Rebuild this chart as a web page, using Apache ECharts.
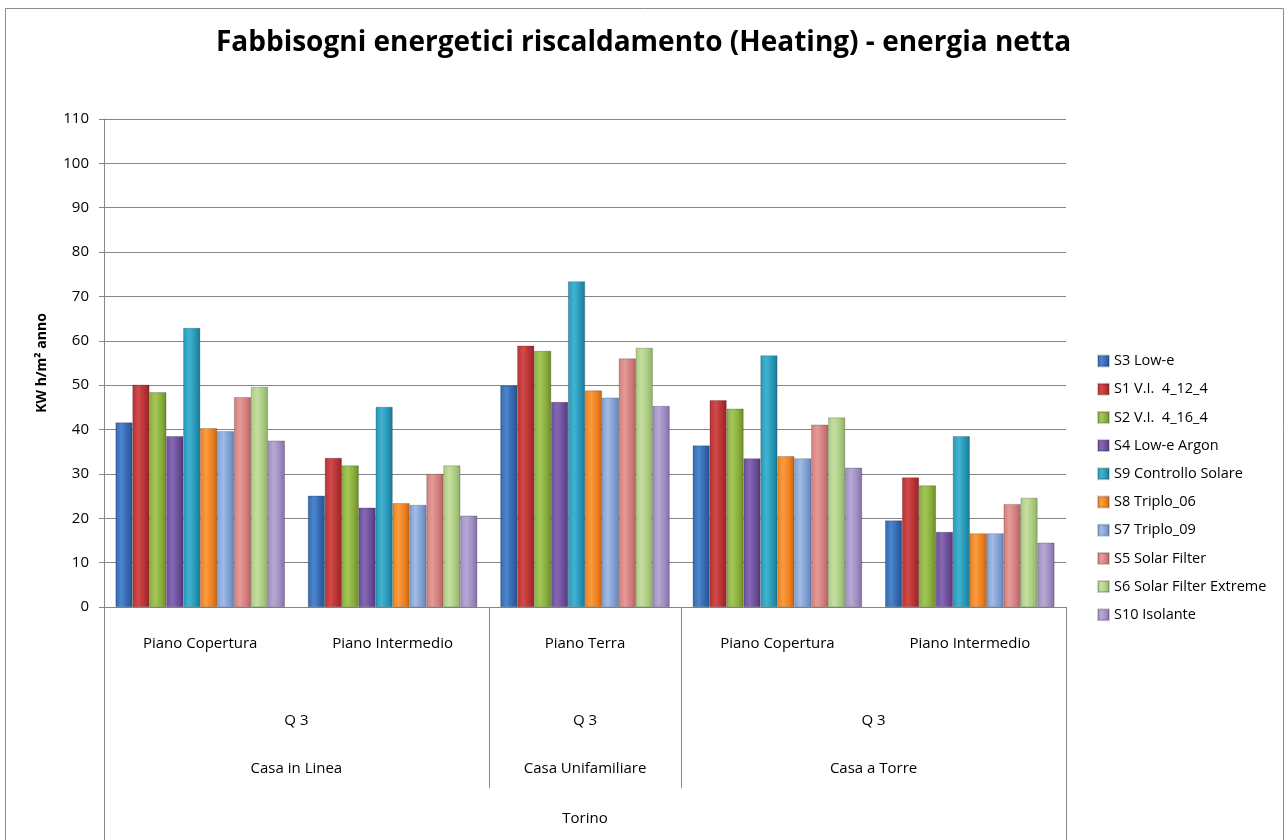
<!DOCTYPE html>
<html>
<head>
<meta charset="utf-8">
<script src="https://cdn.jsdelivr.net/npm/echarts@6/dist/echarts.min.js"></script>
<style>
  html, body { margin: 0; padding: 0; background: #fff; }
  #main { width: 1287px; height: 840px; }
</style>
</head>
<body>
<div id="main"></div>
<script>
// categorie dell'asse (livello 1) e livelli superiori
var categories = ['Piano Copertura', 'Piano Intermedio', 'Piano Terra', 'Piano Copertura', 'Piano Intermedio']
var qLabels = ['', '', 'Q 3', '', '', 'Q 3', '', '', 'Q 3', '', '']
var typeLabels = ['', '', 'Casa in Linea', '', '', 'Casa Unifamiliare', '', '', 'Casa a Torre', '', '']
var cityLabels = ['', '', '', '', '', 'Torino', '', '', '', '', '']
var yTicks = [0, 10, 20, 30, 40, 50, 60, 70, 80, 90, 100, 110]

// serie (kWh/m2 anno)
var seriesNames = ['S3 Low-e', 'S1 V.I.  4_12_4', 'S2 V.I.  4_16_4', 'S4 Low-e Argon', 'S9 Controllo Solare',
  'S8 Triplo_06', 'S7 Triplo_09', 'S5 Solar Filter', 'S6 Solar Filter Extreme', 'S10 Isolante']
var s3 = [41.6, 25.1, 49.9, 36.4, 19.5]
var s1 = [50.1, 33.6, 58.9, 46.6, 29.2]
var s2 = [48.4, 31.9, 57.7, 44.7, 27.4]
var s4 = [38.5, 22.4, 46.2, 33.5, 16.9]
var s9 = [62.9, 45.1, 73.4, 56.7, 38.5]
var s8 = [40.3, 23.4, 48.8, 34.0, 16.6]
var s7 = [39.6, 23.0, 47.2, 33.5, 16.6]
var s5 = [47.3, 30.0, 56.0, 41.1, 23.2]
var s6 = [49.6, 31.9, 58.4, 42.7, 24.6]
var s10 = [37.5, 20.6, 45.3, 31.4, 14.5]
var seriesData = [s3, s1, s2, s4, s9, s8, s7, s5, s6, s10]

// colori: [scuro, medio, chiaro]
var palette = [
  ['#25548f', '#3468b0', '#4c86cc'],
  ['#962425', '#b83234', '#d24a49'],
  ['#6c8c2a', '#89ae3c', '#a3c757'],
  ['#543a7c', '#6c4e9b', '#8568b2'],
  ['#1b7995', '#2798b7', '#41b3d1'],
  ['#c9650f', '#ee8021', '#f99c3e'],
  ['#6584b8', '#819fd2', '#9fbbe6'],
  ['#b86262', '#d27e7c', '#e59b98'],
  ['#8eaf68', '#abcb82', '#c5df9f'],
  ['#8270a5', '#9f8dc1', '#b7a8d6']
]

function barColor(c) {
  return new echarts.graphic.LinearGradient(0, 0, 1, 0, [
    { offset: 0, color: c[1] },
    { offset: 0.35, color: c[2] },
    { offset: 0.7, color: c[1] },
    { offset: 1, color: c[0] }
  ])
}

var font = 'Open Sans'
var gray = '#868686'

var series = seriesNames.map(function (name, i) {
  return {
    name: name,
    type: 'bar',
    data: seriesData[i],
    barGap: '0%',
    barCategoryGap: '12%',
    itemStyle: { color: barColor(palette[i]), borderColor: 'rgba(0,0,0,0.18)', borderWidth: 0.6 }
  }
})

function levelAxis(labels, margin, tickIdx, tickLen) {
  return {
    type: 'category',
    gridIndex: 0,
    position: 'bottom',
    offset: 0,
    boundaryGap: false,
    data: labels.map(function (l, i) { return 'k' + i }),
    axisLine: { show: false },
    axisTick: {
      show: tickIdx.length > 0,
      length: tickLen,
      interval: function (idx) { return tickIdx.indexOf(idx) >= 0 },
      lineStyle: { color: gray }
    },
    axisLabel: {
      interval: 0,
      margin: margin,
      fontFamily: font,
      fontSize: 15,
      color: '#000',
      formatter: function (v, idx) { return labels[idx] }
    },
    splitLine: { show: false }
  }
}

var myChart = echarts.init(document.getElementById('main'))
var option = {
  backgroundColor: '#fff',
  title: {
    text: 'Fabbisogni energetici riscaldamento (Heating) - energia netta',
    left: 'center',
    top: 24,
    textStyle: { fontFamily: font, fontSize: 28, fontWeight: 'bold', color: '#000' }
  },
  graphic: [{
    type: 'rect',
    shape: { x: 5.5, y: 8.5, width: 1278, height: 850 },
    style: { fill: 'none', stroke: '#8c8c8c', lineWidth: 1 },
    silent: true
  }],
  legend: {
    orient: 'vertical',
    left: 1092,
    top: 348,
    itemWidth: 11,
    itemHeight: 11,
    itemGap: 12.2,
    icon: 'rect',
    textStyle: { fontFamily: font, fontSize: 14.5, color: '#000', lineHeight: 16 }
  },
  grid: { left: 104, right: 221, top: 119, bottom: 233 },
  xAxis: [
    {
      type: 'category',
      data: categories,
      axisLine: { lineStyle: { color: gray } },
      axisTick: { length: 86, lineStyle: { color: gray } },
      axisLabel: { interval: 0, margin: 29, fontFamily: font, fontSize: 15, color: '#000' }
    },
    levelAxis(qLabels, 106, [4, 6], 181),
    levelAxis(typeLabels, 154, [], 0),
    levelAxis(cityLabels, 204, [0, 10], 240)
  ],
  yAxis: {
    type: 'value',
    min: yTicks[0],
    max: yTicks[yTicks.length - 1],
    interval: 10,
    name: 'KW h/m² anno',
    nameLocation: 'middle',
    nameGap: 55,
    nameTextStyle: { fontFamily: font, fontSize: 14, fontWeight: 'bold', color: '#000' },
    axisLine: { show: true, lineStyle: { color: gray } },
    axisTick: { show: true, length: 5, lineStyle: { color: gray } },
    axisLabel: { margin: 15, fontFamily: font, fontSize: 15, color: '#000' },
    splitLine: { lineStyle: { color: gray } }
  },
  series: series
}

myChart.setOption(option)
</script>
</body>
</html>
